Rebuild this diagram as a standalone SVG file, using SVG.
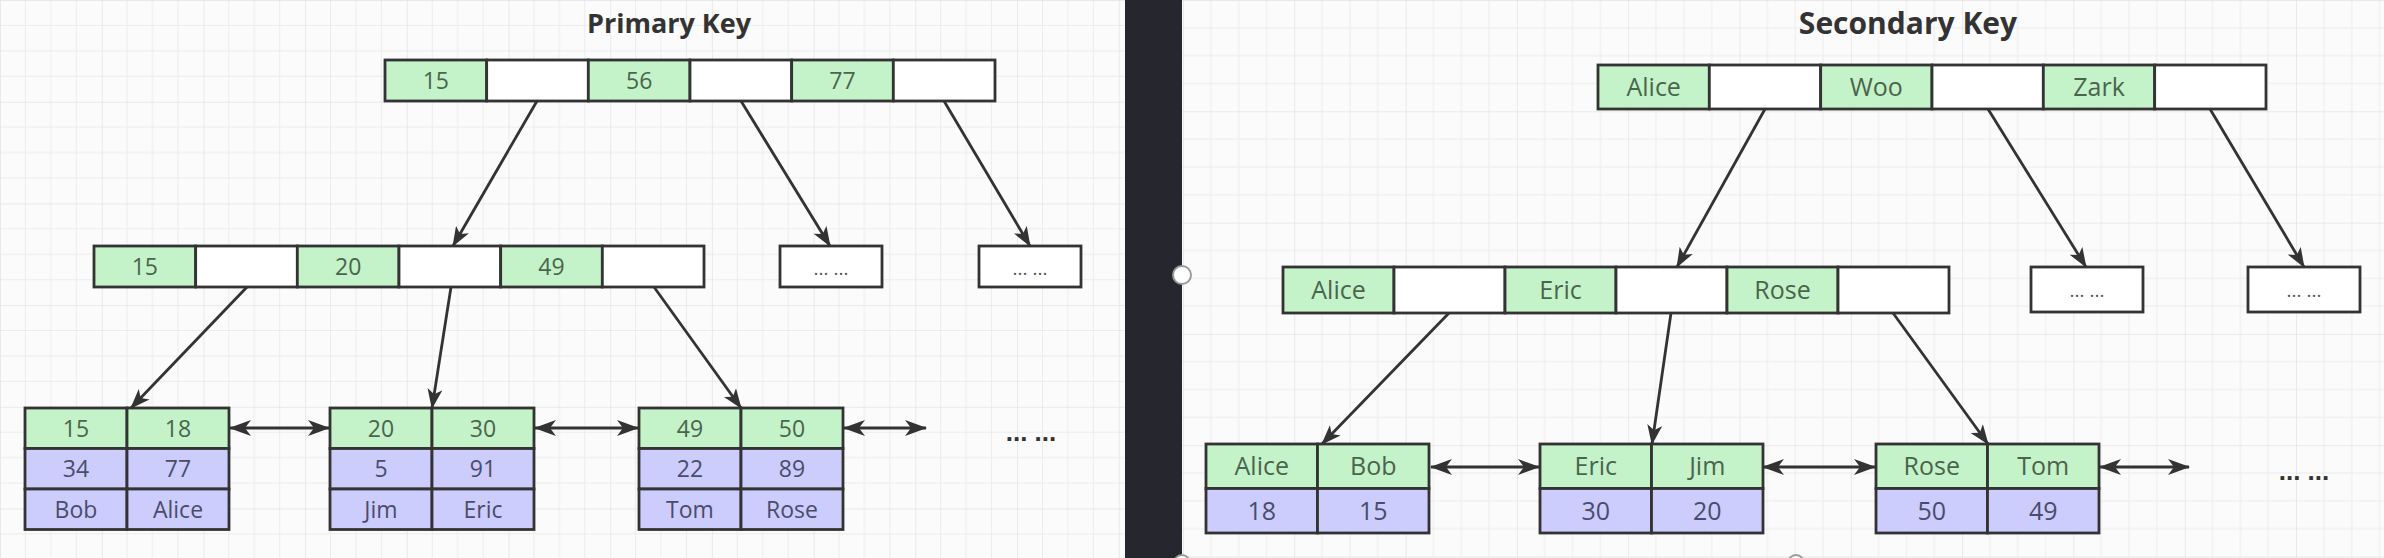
<svg xmlns="http://www.w3.org/2000/svg" width="2384" height="558" viewBox="0 0 2384 558">
<defs>
<style>
.cell{stroke:#333;stroke-width:2.8}
.g{fill:#c4f2c9}
.p{fill:#ccccfd}
.w{fill:#ffffff}
.tg{font-family:"Open Sans","Liberation Sans",sans-serif;font-size:23px;fill:#4a654d;text-anchor:middle}
.tp{font-family:"Open Sans","Liberation Sans",sans-serif;font-size:23px;fill:#4a4c6b;text-anchor:middle}
.r .tg,.r .tp{font-size:25px}
.title{font-family:"Open Sans","Liberation Sans",sans-serif;font-weight:bold;fill:#333;text-anchor:middle}
.dots{font-family:"Open Sans","Liberation Sans",sans-serif;font-size:19px;fill:#555;text-anchor:middle}
.more{font-family:"Liberation Sans",sans-serif;font-weight:bold;font-size:26px;fill:#333;text-anchor:middle}
.conn line{stroke:#333;stroke-width:2.8;fill:none}
.tree{marker-end:url(#arr)}
.dbl{marker-start:url(#arr2);marker-end:url(#arr2)}
</style>
<marker id="arr" viewBox="0 0 20 15" refX="19" refY="7.5" markerWidth="20" markerHeight="15" markerUnits="userSpaceOnUse" orient="auto">
<path d="M0,0 L20,7.5 L0,15 L5,7.5 z" fill="#333"/>
</marker>
<marker id="arr2" viewBox="0 0 22 16" refX="21" refY="8" markerWidth="22" markerHeight="16" markerUnits="userSpaceOnUse" orient="auto-start-reverse">
<path d="M0,0 L22,8 L0,16 L6,8 z" fill="#333"/>
</marker>
<pattern id="gridL" x="0" y="0" width="101.7" height="101.7" patternUnits="userSpaceOnUse">
<path d="M25.4,0V101.7M50.8,0V101.7M76.3,0V101.7M0,25.4H101.7M0,50.8H101.7M0,76.3H101.7" stroke="#ececec" stroke-width="1"/>
<path d="M0,0V101.7M0,0H101.7" stroke="#e3e3e3" stroke-width="1.5"/>
</pattern>
<pattern id="gridR" x="1183" y="0" width="111.3" height="111.3" patternUnits="userSpaceOnUse">
<path d="M27.8,0V111.3M55.7,0V111.3M83.5,0V111.3M0,27.8H111.3M0,55.7H111.3M0,83.5H111.3" stroke="#ececec" stroke-width="1"/>
<path d="M0,0V111.3M0,0H111.3" stroke="#e3e3e3" stroke-width="1.5"/>
</pattern>
</defs>

<rect x="0" y="0" width="1125" height="558" fill="#fbfbfb"/>
<rect x="0" y="0" width="1125" height="558" fill="url(#gridL)"/>
<rect x="1182" y="0" width="1202" height="558" fill="#fbfbfb"/>
<rect x="1182" y="0" width="1202" height="558" fill="url(#gridR)"/>
<rect x="1125" y="0" width="57" height="558" fill="#26262e"/>
<circle cx="1182" cy="275" r="9" fill="#fff" stroke="#9a9a9a" stroke-width="2"/>
<circle cx="1182" cy="563" r="8" fill="#fff" stroke="#9a9a9a" stroke-width="2"/>
<circle cx="1796" cy="563" r="8" fill="#fff" stroke="#9a9a9a" stroke-width="2"/>

<text class="title" x="669" y="33" font-size="27">Primary Key</text>
<text class="title" x="1908" y="34" font-size="30">Secondary Key</text>

<g id="connectors" class="conn">
<line class="tree" x1="537" y1="101" x2="453" y2="246"/>
<line class="tree" x1="741" y1="101" x2="830" y2="246"/>
<line class="tree" x1="944" y1="101" x2="1030" y2="246"/>
<line class="tree" x1="247" y1="287" x2="131" y2="408"/>
<line class="tree" x1="451" y1="287" x2="432" y2="408"/>
<line class="tree" x1="654" y1="287" x2="741" y2="408"/>
<line class="dbl" x1="230" y1="428" x2="329" y2="428"/>
<line class="dbl" x1="535" y1="428" x2="638" y2="428"/>
<line class="dbl" x1="844" y1="428" x2="926" y2="428"/>
<line class="tree" x1="1765" y1="109" x2="1677" y2="267"/>
<line class="tree" x1="1988" y1="109" x2="2086" y2="267"/>
<line class="tree" x1="2210" y1="109" x2="2304" y2="267"/>
<line class="tree" x1="1449" y1="313" x2="1322" y2="444"/>
<line class="tree" x1="1671" y1="313" x2="1652" y2="444"/>
<line class="tree" x1="1893" y1="313" x2="1988" y2="444"/>
<line class="dbl" x1="1431" y1="467" x2="1539" y2="467"/>
<line class="dbl" x1="1763" y1="467" x2="1875" y2="467"/>
<line class="dbl" x1="2100" y1="467" x2="2189" y2="467"/>
</g>

<g id="pk-root">
<rect class="cell g" x="385" y="60" width="101.67" height="41"/>
<rect class="cell w" x="486.67" y="60" width="101.67" height="41"/>
<rect class="cell g" x="588.33" y="60" width="101.67" height="41"/>
<rect class="cell w" x="690" y="60" width="101.67" height="41"/>
<rect class="cell g" x="791.67" y="60" width="101.67" height="41"/>
<rect class="cell w" x="893.33" y="60" width="101.67" height="41"/>
<text class="tg" x="435.8" y="88.5">15</text>
<text class="tg" x="639.2" y="88.5">56</text>
<text class="tg" x="842.5" y="88.5">77</text>
</g>

<g id="pk-inner">
<rect class="cell g" x="94" y="246" width="101.67" height="41"/>
<rect class="cell w" x="195.67" y="246" width="101.67" height="41"/>
<rect class="cell g" x="297.33" y="246" width="101.67" height="41"/>
<rect class="cell w" x="399" y="246" width="101.67" height="41"/>
<rect class="cell g" x="500.67" y="246" width="101.67" height="41"/>
<rect class="cell w" x="602.33" y="246" width="101.67" height="41"/>
<text class="tg" x="144.8" y="274.5">15</text>
<text class="tg" x="348.2" y="274.5">20</text>
<text class="tg" x="551.5" y="274.5">49</text>
</g>

<g id="pk-more1">
<rect class="cell w" x="780" y="246" width="102" height="41"/>
<text class="dots" x="831" y="275">... ...</text>
</g>
<g id="pk-more2">
<rect class="cell w" x="979" y="246" width="102" height="41"/>
<text class="dots" x="1030" y="275">... ...</text>
</g>

<g id="pk-leaf1">
<rect class="cell g" x="25" y="408" width="102" height="40.5"/>
<rect class="cell g" x="127" y="408" width="102" height="40.5"/>
<rect class="cell p" x="25" y="448.5" width="102" height="40.5"/>
<rect class="cell p" x="127" y="448.5" width="102" height="40.5"/>
<rect class="cell p" x="25" y="489" width="102" height="40.5"/>
<rect class="cell p" x="127" y="489" width="102" height="40.5"/>
<text class="tg" x="76" y="436.5">15</text>
<text class="tg" x="178" y="436.5">18</text>
<text class="tp" x="76" y="477">34</text>
<text class="tp" x="178" y="477">77</text>
<text class="tp" x="76" y="517.5">Bob</text>
<text class="tp" x="178" y="517.5">Alice</text>
</g>

<g id="pk-leaf2">
<rect class="cell g" x="330" y="408" width="102" height="40.5"/>
<rect class="cell g" x="432" y="408" width="102" height="40.5"/>
<rect class="cell p" x="330" y="448.5" width="102" height="40.5"/>
<rect class="cell p" x="432" y="448.5" width="102" height="40.5"/>
<rect class="cell p" x="330" y="489" width="102" height="40.5"/>
<rect class="cell p" x="432" y="489" width="102" height="40.5"/>
<text class="tg" x="381" y="436.5">20</text>
<text class="tg" x="483" y="436.5">30</text>
<text class="tp" x="381" y="477">5</text>
<text class="tp" x="483" y="477">91</text>
<text class="tp" x="381" y="517.5">Jim</text>
<text class="tp" x="483" y="517.5">Eric</text>
</g>

<g id="pk-leaf3">
<rect class="cell g" x="639" y="408" width="102" height="40.5"/>
<rect class="cell g" x="741" y="408" width="102" height="40.5"/>
<rect class="cell p" x="639" y="448.5" width="102" height="40.5"/>
<rect class="cell p" x="741" y="448.5" width="102" height="40.5"/>
<rect class="cell p" x="639" y="489" width="102" height="40.5"/>
<rect class="cell p" x="741" y="489" width="102" height="40.5"/>
<text class="tg" x="690" y="436.5">49</text>
<text class="tg" x="792" y="436.5">50</text>
<text class="tp" x="690" y="477">22</text>
<text class="tp" x="792" y="477">89</text>
<text class="tp" x="690" y="517.5">Tom</text>
<text class="tp" x="792" y="517.5">Rose</text>
</g>

<g id="pk-ellipsis">
<text class="more" x="1031" y="441">... ...</text>
</g>

<g id="sk-root" class="r">
<rect class="cell g" x="1598" y="65" width="111.33" height="44"/>
<rect class="cell w" x="1709.33" y="65" width="111.33" height="44"/>
<rect class="cell g" x="1820.67" y="65" width="111.33" height="44"/>
<rect class="cell w" x="1932" y="65" width="111.33" height="44"/>
<rect class="cell g" x="2043.33" y="65" width="111.33" height="44"/>
<rect class="cell w" x="2154.67" y="65" width="111.33" height="44"/>
<text class="tg" x="1653.7" y="96">Alice</text>
<text class="tg" x="1876.3" y="96">Woo</text>
<text class="tg" x="2099" y="96">Zark</text>
</g>

<g id="sk-inner" class="r">
<rect class="cell g" x="1283" y="267" width="111" height="46"/>
<rect class="cell w" x="1394" y="267" width="111" height="46"/>
<rect class="cell g" x="1505" y="267" width="111" height="46"/>
<rect class="cell w" x="1616" y="267" width="111" height="46"/>
<rect class="cell g" x="1727" y="267" width="111" height="46"/>
<rect class="cell w" x="1838" y="267" width="111" height="46"/>
<text class="tg" x="1338.5" y="299">Alice</text>
<text class="tg" x="1560.5" y="299">Eric</text>
<text class="tg" x="1782.5" y="299">Rose</text>
</g>

<g id="sk-more1">
<rect class="cell w" x="2031" y="267" width="112" height="45"/>
<text class="dots" x="2087" y="297">... ...</text>
</g>
<g id="sk-more2">
<rect class="cell w" x="2248" y="267" width="112" height="45"/>
<text class="dots" x="2304" y="297">... ...</text>
</g>

<g id="sk-leaf1" class="r">
<rect class="cell g" x="1206" y="444" width="111.5" height="44.5"/>
<rect class="cell g" x="1317.5" y="444" width="111.5" height="44.5"/>
<rect class="cell p" x="1206" y="488.5" width="111.5" height="44.5"/>
<rect class="cell p" x="1317.5" y="488.5" width="111.5" height="44.5"/>
<text class="tg" x="1261.75" y="475">Alice</text>
<text class="tg" x="1373.25" y="475">Bob</text>
<text class="tp" x="1261.75" y="519.5">18</text>
<text class="tp" x="1373.25" y="519.5">15</text>
</g>

<g id="sk-leaf2" class="r">
<rect class="cell g" x="1540" y="444" width="111.5" height="44.5"/>
<rect class="cell g" x="1651.5" y="444" width="111.5" height="44.5"/>
<rect class="cell p" x="1540" y="488.5" width="111.5" height="44.5"/>
<rect class="cell p" x="1651.5" y="488.5" width="111.5" height="44.5"/>
<text class="tg" x="1595.75" y="475">Eric</text>
<text class="tg" x="1707.25" y="475">Jim</text>
<text class="tp" x="1595.75" y="519.5">30</text>
<text class="tp" x="1707.25" y="519.5">20</text>
</g>

<g id="sk-leaf3" class="r">
<rect class="cell g" x="1876" y="444" width="111.5" height="44.5"/>
<rect class="cell g" x="1987.5" y="444" width="111.5" height="44.5"/>
<rect class="cell p" x="1876" y="488.5" width="111.5" height="44.5"/>
<rect class="cell p" x="1987.5" y="488.5" width="111.5" height="44.5"/>
<text class="tg" x="1931.75" y="475">Rose</text>
<text class="tg" x="2043.25" y="475">Tom</text>
<text class="tp" x="1931.75" y="519.5">50</text>
<text class="tp" x="2043.25" y="519.5">49</text>
</g>

<g id="sk-ellipsis">
<text class="more" x="2304" y="480">... ...</text>
</g>
</svg>
